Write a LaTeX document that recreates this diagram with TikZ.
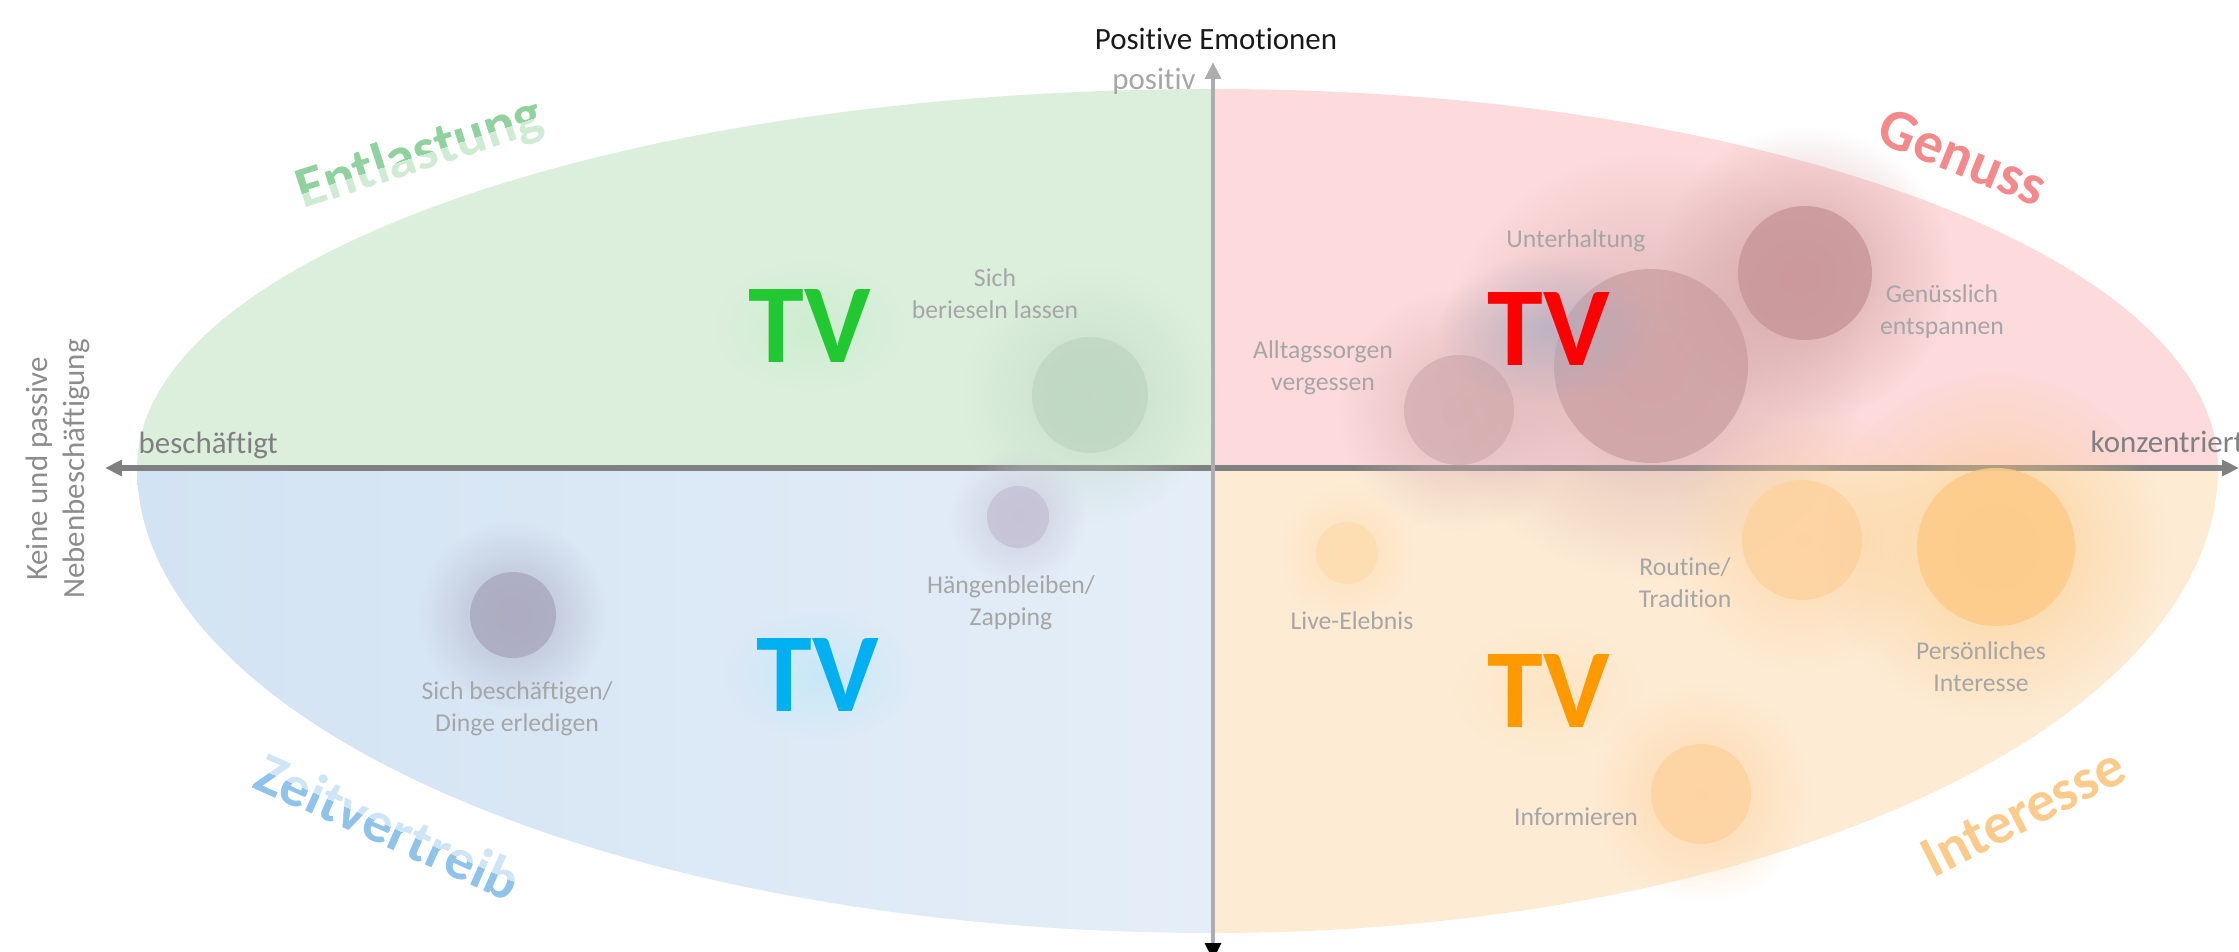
\documentclass[tikz,border=0pt]{standalone}
\usepackage{fontspec}
\setmainfont{Carlito}[Ligatures=NoCommon]
\usepackage{xcolor}
\usetikzlibrary{arrows.meta, fadings}

\definecolor{greenq}{HTML}{DCEFDD}
\definecolor{pinkq}{HTML}{FDDADB}
\definecolor{blueqL}{HTML}{D2E3F3}
\definecolor{blueqR}{HTML}{E5EEF8}
\definecolor{orangeq}{HTML}{FDEBD4}
\definecolor{hgray}{HTML}{808080}
\definecolor{vgray}{HTML}{ADADAD}
\definecolor{lblgray}{HTML}{A6A6A6}
\definecolor{sidegray}{HTML}{8C8C8C}
\definecolor{entdark}{HTML}{8FD29E}
\definecolor{entlight}{HTML}{CFEBD4}
\definecolor{zeitdark}{HTML}{8FC3EA}
\definecolor{zeitlight}{HTML}{CFE4F5}
\definecolor{genussred}{HTML}{F4898C}
\definecolor{interorange}{HTML}{FBCB8C}
\definecolor{tvgreen}{HTML}{22C832}
\definecolor{tvred}{HTML}{FF0000}
\definecolor{tvblue}{HTML}{00B0F0}
\definecolor{tvorange}{HTML}{FF9900}
\definecolor{blobgreen}{HTML}{BFD8C3}
\definecolor{blobroseA}{HTML}{D6B0B2}
\definecolor{blobroseB}{HTML}{CFA3A6}
\definecolor{blobroseC}{HTML}{C9979A}
\definecolor{blobpurpleA}{HTML}{C6C2D6}
\definecolor{blobpurpleB}{HTML}{ABAAC0}
\definecolor{bloborangeA}{HTML}{FDDDB0}
\definecolor{bloborangeB}{HTML}{FDD3A0}
\definecolor{bloborangeC}{HTML}{FCCB88}

\tikzfading[name=halofade, inner color=transparent!0, outer color=transparent!100]

\begin{document}
\begin{tikzpicture}[x=0.01cm, y=-0.01cm,
  lbl/.style={inner sep=0, align=center, text=lblgray, font=\fontsize{7.3}{9.1}\selectfont},
  axlbl/.style={inner sep=0, align=center, font=\fontsize{8.8}{10.4}\selectfont},
  title/.style={inner sep=0, font=\fontsize{16.5}{18}\selectfont\bfseries},
  tvtext/.style={inner sep=0, font=\fontsize{32}{34}\selectfont\bfseries},
  haxis/.style={draw=hgray, line width=1.6pt},
  vaxis/.style={draw=vgray, line width=1.4pt}]
\useasboundingbox (0,0) rectangle (2239,952);

% quadrants
\coordinate (o) at (1213,468);
\fill[greenq] (o) -- (137,468) arc[start angle=180, end angle=270, x radius=1076, y radius=379] -- cycle;
\fill[pinkq] (o) -- (1213,89) arc[start angle=270, end angle=360, x radius=1005, y radius=379] -- cycle;
\fill[orangeq] (o) -- (2218,468) arc[start angle=0, end angle=90, x radius=1005, y radius=465] -- cycle;
\shade[left color=blueqL, right color=blueqR] (o) -- (1213,933) arc[start angle=90, end angle=180, x radius=1076, y radius=465] -- cycle;

% axes
\coordinate (west) at (105,468);
\coordinate (east) at (2239,468);
\coordinate (north) at (1213,62);
\coordinate (south) at (1213,960);
\draw[haxis, {Triangle[length=4.8pt, width=4.4pt]}-{Triangle[length=4.8pt, width=4.4pt]}] (west) -- (east);
\draw[vaxis, -{Triangle[length=4.8pt, width=4.4pt]}] (o) -- (north);
\draw[vaxis, -{Triangle[length=4.8pt, width=4.4pt, color=black]}] (o) -- (south);

% blurred blobs
\foreach \x/\y/\r/\c in {1090/395/58/blobgreen, 1459/410/55/blobroseA, 1651/366/97/blobroseB,
    1805/273/67/blobroseC, 1018/517/31/blobpurpleA, 513/615/43/blobpurpleB,
    1347/553/31/bloborangeA, 1802/540/60/bloborangeB, 1996/547/79/bloborangeC, 1701/794/50/bloborangeB} {
  \fill[\c, path fading=halofade, fill opacity=.75] (\x,\y) circle ({2.2*\r});
  \fill[\c, fill opacity=.85] (\x,\y) circle (\r);
}

% axis labels
\node[axlbl, text=black!90] (posemo) at (1216,39) {Positive Emotionen};
\node[axlbl, text=lblgray] (positiv) at (1154,81) {positiv};
\node[axlbl, text=hgray, anchor=west] (besch) at (138,445) {beschäftigt};
\node[axlbl, text=hgray, anchor=west] (konz) at (2090,442) {konzentriert};
\node[axlbl, text=sidegray, rotate=90] (neben) at (58,469) {Keine und passive\\Nebenbeschäftigung};

% item labels
\node[lbl] (berieseln) at (995,294) {Sich\\berieseln lassen};
\node[lbl] (alltag) at (1323,368) {Alltagssorgen\\vergessen};
\node[lbl] (unterh) at (1576,241) {Unterhaltung};
\node[lbl] (geniessen) at (1942,312) {Genüsslich\\entspannen};
\node[lbl] (zapping) at (1011,603) {Hängenbleiben/\\Zapping};
\node[lbl] (erledigen) at (517,709) {Sich beschäftigen/\\Dinge erledigen};
\node[lbl] (live) at (1352,621) {Live-Elebnis};
\node[lbl] (routine) at (1685,583) {Routine/\\Tradition};
\node[lbl] (persoenl) at (1981,667) {Persönliches\\Interesse};
\node[lbl] (inform) at (1576,817) {Informieren};

% TV marks with glow
\coordinate (tvg) at (810,326);
\coordinate (tvr) at (1549,329);
\coordinate (tvb) at (818,675);
\coordinate (tvo) at (1549,691);
\fill[tvgreen!30, path fading=halofade, fill opacity=.5] (tvg) ellipse [x radius=95, y radius=65];
\fill[blobpurpleB, path fading=halofade, fill opacity=.7] (tvr) ellipse [x radius=110, y radius=75];
\fill[tvblue!30, path fading=halofade, fill opacity=.5] (tvb) ellipse [x radius=95, y radius=65];
\fill[tvorange!30, path fading=halofade, fill opacity=.5] (tvo) ellipse [x radius=95, y radius=65];
\node[tvtext, text=tvgreen] (tvG) at (tvg) {TV};
\node[tvtext, text=tvred] (tvR) at (tvr) {TV};
\node[tvtext, text=tvblue] (tvB) at (tvb) {TV};
\node[tvtext, text=tvorange] (tvO) at (tvo) {TV};

% quadrant titles
\node[title, text=entlight, rotate=18] (ent) at (420,155) {Entlastung};
\begin{scope}
  \clip (ent.north west) -- (ent.north east) -- (ent.east) -- (ent.west) -- cycle;
  \node[title, text=entdark, rotate=18] (entB) at (ent.center) {Entlastung};
\end{scope}
\node[title, text=genussred, rotate=-22] (gen) at (1963,157) {Genuss};
\node[title, text=zeitlight, rotate=-24] (zeit) at (388,826) {Zeitvertreib};
\begin{scope}
  \clip (zeit.west) -- (zeit.east) -- (zeit.south east) -- (zeit.south west) -- cycle;
  \node[title, text=zeitdark, rotate=-24] (zeitB) at (zeit.center) {Zeitvertreib};
\end{scope}
\node[title, text=interorange, rotate=27] (inter) at (2023,812) {Interesse};
\end{tikzpicture}
\end{document}
